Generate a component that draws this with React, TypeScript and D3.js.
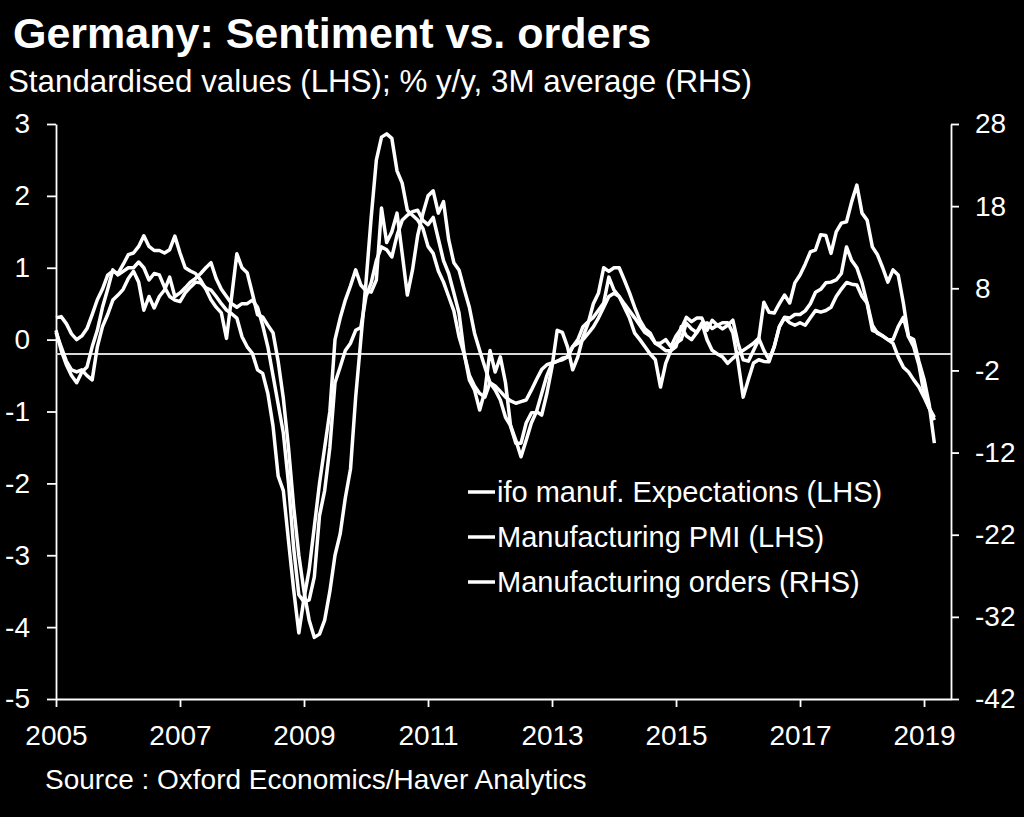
import React, { useEffect, useRef } from 'react';
import * as d3 from 'd3';

// Monthly data, January 2005 to March 2019
const START_YEAR = 2005;

// ifo manufacturing expectations, standardised (LHS)
const ifoExpectations = [
  0.10, -0.10, -0.30, -0.42, -0.45, -0.42, -0.50, -0.56, -0.10, 0.18, 0.35, 0.55,
  0.62, 0.70, 0.85, 0.95, 0.80, 0.41, 0.60, 0.44, 0.60, 0.69, 0.87, 0.60,
  0.65, 0.72, 0.80, 0.85, 0.92, 1.00, 1.07, 0.85, 0.70, 0.60, 0.50, 0.45,
  0.50, 0.50, 0.55, 0.45, 0.20, -0.10, -0.50, -0.90, -1.30, -2.00, -2.90, -3.55,
  -3.65, -3.62, -3.30, -2.45, -2.10, -1.50, -0.60, -0.38, -0.15, -0.05, 0.13, 0.17,
  0.60, 0.79, 1.10, 1.29, 1.25, 1.15, 1.45, 1.66, 1.73, 1.78, 1.80, 1.66,
  1.60, 1.70, 1.40, 1.10, 0.92, 0.65, 0.37, -0.19, -0.56, -0.70, -0.98, -0.72,
  -0.15, -0.45, -0.24, -0.60, -1.21, -1.44, -1.44, -1.16, -1.02, -1.00, -0.75, -0.50,
  -0.33, -0.30, -0.28, -0.24, -0.10, 0.00, 0.18, 0.25, 0.31, 0.41, 0.51, 0.87,
  0.69, 0.60, 0.45, 0.30, 0.09, 0.00, -0.10, -0.20, -0.28, -0.66, -0.33, -0.15,
  -0.05, 0.00, 0.23, 0.15, 0.10, 0.23, 0.00, -0.15, -0.20, -0.24, -0.33, -0.26,
  -0.20, -0.15, -0.10, -0.05, 0.02, -0.15, -0.28, -0.10, 0.18, 0.31, 0.30, 0.35,
  0.35, 0.40, 0.50, 0.66, 0.70, 0.79, 0.80, 0.83, 0.92, 1.29, 1.10, 1.00,
  0.79, 0.50, 0.13, 0.10, 0.05, 0.00, 0.00, 0.18, 0.31, 0.04, -0.10, -0.35,
  -0.75, -0.95, -1.12,
];

// Manufacturing PMI, standardised (LHS)
const manufacturingPMI = [
  0.13, -0.15, -0.35, -0.50, -0.60, -0.45, -0.38, -0.10, 0.13, 0.45, 0.70, 0.97,
  0.90, 0.95, 1.00, 1.00, 1.08, 1.00, 0.83, 0.92, 0.90, 0.73, 0.60, 0.55,
  0.53, 0.65, 0.73, 0.80, 0.79, 0.72, 0.69, 0.60, 0.50, 0.41, 0.36, 0.30,
  0.04, -0.10, -0.19, -0.42, -0.47, -0.75, -1.20, -1.90, -2.10, -2.80, -3.48, -4.08,
  -3.60, -3.20, -2.60, -2.00, -1.50, -1.00, 0.00, 0.30, 0.55, 0.75, 0.97, 0.76,
  0.68, 0.66, 0.83, 1.83, 1.35, 1.50, 1.76, 1.20, 0.62, 0.97, 1.45, 1.75,
  2.00, 2.07, 1.76, 1.92, 1.39, 1.07, 0.97, 0.70, 0.45, 0.09, -0.15, -0.38,
  -0.60, -0.70, -0.84, -1.08, -1.20, -1.40, -1.63, -1.40, -1.16, -1.00, -1.05, -0.75,
  -0.38, 0.13, 0.10, -0.10, -0.42, -0.24, 0.04, 0.23, 0.50, 0.65, 1.00, 0.95,
  1.00, 1.00, 0.83, 0.65, 0.45, 0.27, 0.15, 0.09, -0.05, -0.05, 0.00, -0.10,
  0.05, 0.15, 0.31, 0.25, 0.30, 0.30, 0.13, 0.27, 0.20, 0.15, 0.20, 0.27,
  -0.05, -0.28, -0.30, -0.15, 0.00, 0.52, 0.38, 0.37, 0.50, 0.62, 0.51, 0.79,
  0.90, 1.05, 1.22, 1.25, 1.46, 1.45, 1.20, 1.50, 1.62, 1.64, 1.92, 2.15,
  1.76, 1.66, 1.29, 1.18, 1.00, 0.80, 0.97, 0.90, 0.51, 0.04, 0.00, -0.30,
  -0.55, -0.90, -1.44,
];

// Manufacturing orders, % y/y, 3M average (RHS)
const manufacturingOrders = [
  4.4, 4.55, 3.7, 2.45, 1.75, 2.2, 3.1, 4.8, 6.6, 7.9, 9.6, 10.1,
  9.8, 10.9, 12.1, 12.3, 13.1, 14.4, 13.1, 12.6, 12.6, 12.3, 12.7, 14.35,
  12.3, 10.5, 10.1, 9.8, 9.0, 7.9, 6.6, 5.7, 5.0, 1.9, 7.0, 12.2,
  10.5, 9.9, 7.4, 4.8, 4.5, 3.5, 2.6, -0.9, -5.4, -11.4, -18.6, -24.5,
  -28.9, -32.4, -34.5, -34.1, -32.4, -28.9, -24.5, -21.9, -17.5, -14.0, -5.25, 1.75,
  8.75, 16.6, 23.6, 26.4, 26.8, 26.25, 22.3, 20.8, 17.5, 16.9, 16.3, 15.3,
  13.1, 12.25, 10.1, 8.75, 7.0, 5.25, 2.1, 0.0, -2.6, -3.9, -4.8, -5.25,
  -3.5, -3.9, -4.55, -5.25, -5.7, -6.0, -5.8, -5.6, -4.4, -3.1, -1.9, -1.3,
  -1.1, -0.9, -0.5, -0.35, 0.9, 1.3, 1.75, 2.5, 3.3, 4.4, 5.7, 7.0,
  7.4, 7.0, 6.1, 5.25, 4.4, 3.5, 2.6, 2.2, 1.3, 0.9, 0.4, 0.4,
  0.9, 3.3, 2.2, 1.75, 2.6, 3.5, 3.8, 3.1, 3.5, 3.8, 3.8, 2.6,
  -0.9, -5.25, -3.1, -1.1, -0.7, -0.9, -0.95, 0.9, 3.3, 4.4, 3.8, 3.5,
  3.8, 3.5, 4.4, 5.3, 5.1, 5.3, 5.7, 7.0, 7.9, 8.7, 8.5, 8.4,
  7.0, 6.2, 3.5, 2.5, 2.2, 1.75, 1.3, -0.35, -1.6, -2.2, -3.15, -4.0,
  -5.25, -6.6, -7.7,
];

const leftTicks = [3, 2, 1, 0, -1, -2, -3, -4, -5];
const rightTicks = [28, 18, 8, -2, -12, -22, -32, -42];
const yearTicks = [2005, 2007, 2009, 2011, 2013, 2015, 2017, 2019];
const legendLabels = [
  'ifo manuf. Expectations (LHS)',
  'Manufacturing PMI (LHS)',
  'Manufacturing orders (RHS)',
];

const FONT = '"Liberation Sans", Arial, Helvetica, sans-serif';

export default function App() {
  const ref = useRef<SVGSVGElement>(null);

  useEffect(() => {
    document.body.style.margin = '0';
    document.body.style.background = '#000';
    const svg = d3.select(ref.current);
    svg.selectAll('*').remove();

    const W = 1024;
    const H = 817;
    const left = 56;
    const right = 951;
    const top = 124;
    const bottom = 699;

    svg.append('rect').attr('width', W).attr('height', H).attr('fill', '#000');

    const x = d3.scaleLinear().domain([2005, 2019.435]).range([left, right]);
    const yL = d3.scaleLinear().domain([-5, 3]).range([bottom, top]);
    const yR = d3.scaleLinear().domain([-42, 28]).range([bottom, top]);

    // title
    svg.append('text')
      .attr('x', 13).attr('y', 48)
      .attr('font-family', FONT).attr('font-weight', 'bold').attr('font-size', 43)
      .attr('fill', '#fff')
      .text('Germany: Sentiment vs. orders');
    svg.append('text')
      .attr('x', 8).attr('y', 92)
      .attr('font-family', FONT).attr('font-size', 31.3)
      .attr('fill', '#fff')
      .text('Standardised values (LHS); % y/y, 3M average (RHS)');

    const plain = (d: any) => String(d);

    const styleAxis = (g: any) => {
      g.select('.domain').attr('stroke', '#fff').attr('stroke-width', 1.8);
      g.selectAll('.tick line').attr('stroke', '#fff').attr('stroke-width', 1.8);
      g.selectAll('.tick text')
        .attr('fill', '#fff')
        .attr('font-family', FONT)
        .attr('font-size', 28);
    };

    svg.append('g')
      .attr('transform', `translate(${left},0)`)
      .call(d3.axisLeft(yL).tickValues(leftTicks).tickSize(9).tickSizeOuter(0).tickPadding(17).tickFormat(plain) as any)
      .call(styleAxis);

    svg.append('g')
      .attr('transform', `translate(${right},0)`)
      .call(d3.axisRight(yR).tickValues(rightTicks).tickSize(8).tickSizeOuter(0).tickPadding(16).tickFormat(plain) as any)
      .call(styleAxis);

    svg.append('g')
      .attr('transform', `translate(0,${bottom})`)
      .call(d3.axisBottom(x).tickValues(yearTicks).tickSize(8).tickSizeOuter(0).tickPadding(18).tickFormat(plain) as any)
      .call(styleAxis);

    // zero line (RHS)
    svg.append('line')
      .attr('x1', left).attr('x2', right)
      .attr('y1', yR(0)).attr('y2', yR(0))
      .attr('stroke', '#d8d8d8').attr('stroke-width', 2);

    const dateOf = (i: number) => START_YEAR + i / 12;
    const lineL = d3.line<number>().x((_, i) => x(dateOf(i))).y((d) => yL(d));
    const lineR = d3.line<number>().x((_, i) => x(dateOf(i))).y((d) => yR(d));

    const series = [
      { data: manufacturingOrders, gen: lineR },
      { data: ifoExpectations, gen: lineL },
      { data: manufacturingPMI, gen: lineL },
    ];
    series.forEach((s) => {
      svg.append('path')
        .attr('d', s.gen(s.data) as string)
        .attr('fill', 'none')
        .attr('stroke', '#fff')
        .attr('stroke-width', 3.5)
        .attr('stroke-linejoin', 'round');
    });

    // legend
    const legend = svg.append('g');
    legendLabels.forEach((label, i) => {
      const cy = 492 + i * 45;
      legend.append('line')
        .attr('x1', 468).attr('x2', 495)
        .attr('y1', cy).attr('y2', cy)
        .attr('stroke', '#fff').attr('stroke-width', 3.5);
      legend.append('text')
        .attr('x', 497).attr('y', cy + 10)
        .attr('font-family', FONT).attr('font-size', 29)
        .attr('fill', '#fff')
        .text(label);
    });

    // source
    svg.append('text')
      .attr('x', 45).attr('y', 789)
      .attr('font-family', FONT).attr('font-size', 28)
      .attr('fill', '#fff')
      .text('Source : Oxford Economics/Haver Analytics');
  }, []);

  return <svg ref={ref} width={1024} height={817} style={{ display: 'block', background: '#000' }} />;
}
